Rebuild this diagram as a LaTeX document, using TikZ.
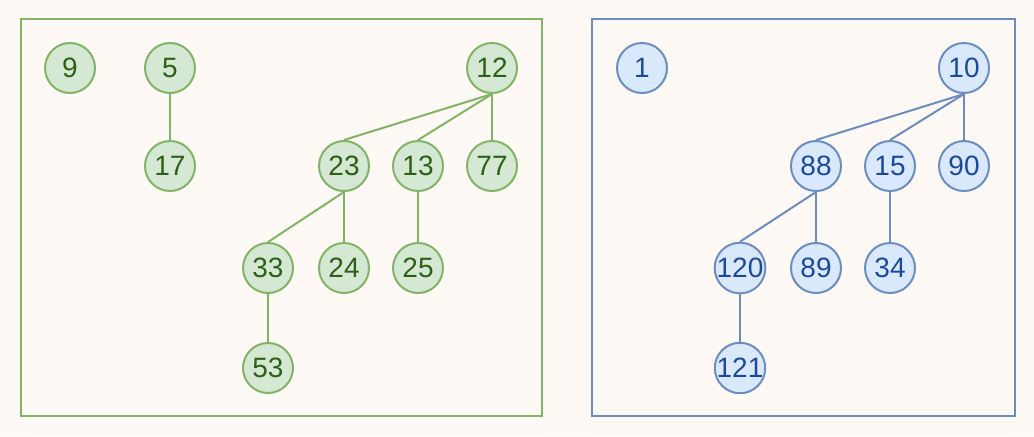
\documentclass[tikz,border=0pt]{standalone}
\usepackage{fontspec}
\setmainfont{Liberation Sans}
\definecolor{bgcol}{HTML}{FFF9F5}
\definecolor{gfill}{HTML}{D5E8D4}
\definecolor{gline}{HTML}{82B366}
\definecolor{gtext}{HTML}{2D6016}
\definecolor{bfill}{HTML}{DAE8FC}
\definecolor{bline}{HTML}{6C8EBF}
\definecolor{btext}{HTML}{1A4A99}

\begin{document}
\begin{tikzpicture}[x=0.75pt,y=-0.75pt,
	gnode/.style={circle,draw=gline,fill=gfill,line width=1.5pt,minimum size=37.5pt,inner sep=0pt,text=gtext,font=\fontsize{21}{21}\selectfont},
	bnode/.style={circle,draw=bline,fill=bfill,line width=1.5pt,minimum size=37.5pt,inner sep=0pt,text=btext,font=\fontsize{21}{21}\selectfont},
	gedge/.style={draw=gline,line width=1.5pt},
	bedge/.style={draw=bline,line width=1.5pt}]
\useasboundingbox[fill=bgcol] (0,0) rectangle (1034,436);

% boxes
\draw[gline,line width=1.5pt] (21,19) rectangle (542,416);
\draw[bline,line width=1.5pt] (592,19) rectangle (1015,416);

% left heap
\node[gnode] (n9) at (70,68) {9};
\node[gnode] (n5) at (170,68) {5};
\node[gnode] (n12) at (492,68) {12};
\node[gnode] (n17) at (170,166) {17};
\node[gnode] (n23) at (344,166) {23};
\node[gnode] (n13) at (418,166) {13};
\node[gnode] (n77) at (492,166) {77};
\node[gnode] (n33) at (268,268) {33};
\node[gnode] (n24) at (344,268) {24};
\node[gnode] (n25) at (418,268) {25};
\node[gnode] (n53) at (268,368) {53};

\foreach \a/\b in {n5/n17, n12/n23, n12/n13, n12/n77, n23/n33, n23/n24, n13/n25, n33/n53}{
	\draw[gedge] (\a.south) -- (\b.north);
}

% right heap
\node[bnode] (n1) at (642,68) {1};
\node[bnode] (n10) at (964,68) {10};
\node[bnode] (n88) at (816,166) {88};
\node[bnode] (n15) at (890,166) {15};
\node[bnode] (n90) at (964,166) {90};
\node[bnode] (n120) at (740,268) {120};
\node[bnode] (n89) at (816,268) {89};
\node[bnode] (n34) at (890,268) {34};
\node[bnode] (n121) at (740,368) {121};

\foreach \a/\b in {n10/n88, n10/n15, n10/n90, n88/n120, n88/n89, n15/n34, n120/n121}{
	\draw[bedge] (\a.south) -- (\b.north);
}

\end{tikzpicture}
\end{document}
